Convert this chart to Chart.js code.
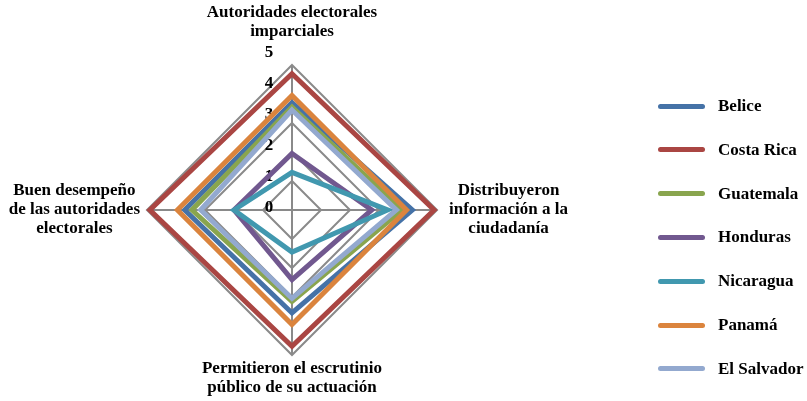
<!DOCTYPE html>
<html>
<head>
<meta charset="utf-8">
<script src="https://cdn.jsdelivr.net/npm/chart.js@4"></script>
<style>
  html, body { margin: 0; padding: 0; background: #ffffff; }
  #wrap { position: relative; width: 807px; height: 401px; overflow: hidden; }
  #c { position: absolute; left: 0; top: 0; }
  .lg { position: absolute; left: 0; top: 0; }
  .lg-line { position: absolute; width: 47px; height: 5px; border-radius: 3px; }
  .lg-text { position: absolute; font: bold 17px "Liberation Serif", serif; color: #000; white-space: nowrap; line-height: 20px; }
</style>
</head>
<body>
<div id="wrap">
  <canvas id="c" width="807" height="401"></canvas>
  <div id="legend" class="lg"></div>
</div>
<script>
// ---- data ----
const categories = [
  ["Autoridades electorales", "imparciales"],
  ["Distribuyeron", "información a la", "ciudadanía"],
  ["Permitieron el escrutinio", "público de su actuación"],
  ["Buen desempeño", "de las autoridades", "electorales"]
];
const seriesNames = ["Belice", "Costa Rica", "Guatemala", "Honduras", "Nicaragua", "Panamá", "El Salvador"];
const belice     = [3.7, 4.15, 3.55, 3.7];
const costaRica  = [4.7, 4.9, 4.7, 4.9];
const guatemala  = [3.55, 3.8, 3.15, 3.45];
const honduras   = [1.95, 2.75, 2.4, 2.0];
const nicaragua  = [1.3, 3.3, 1.45, 2.0];
const panama     = [3.95, 3.95, 3.95, 3.95];
const elSalvador = [3.45, 3.6, 3.05, 3.15];
const tickValues = [0, 1, 2, 3, 4, 5];
const seriesColors = ["#4572A7", "#AA4643", "#89A54E", "#71588F", "#4198AF", "#DB843D", "#93A9CF"];
const seriesValues = [belice, costaRica, guatemala, honduras, nicaragua, panama, elSalvador];

const FONT = 'bold 17px "Liberation Serif", serif';

const labelPlugin = {
  id: 'customLabels',
  beforeDatasetsDraw(chart) {
    // tick labels (left of the vertical axis), drawn beneath the series lines
    const s = chart.scales.r;
    const ctx = chart.ctx;
    ctx.save();
    ctx.font = FONT;
    ctx.fillStyle = '#000000';
    ctx.textAlign = 'center';
    ctx.textBaseline = 'middle';
    tickValues.forEach(v => {
      const d = s.getDistanceFromCenterForValue(v);
      ctx.fillText(String(v), s.xCenter - 23, s.yCenter - d * 1.07 - 2);
    });
    ctx.restore();
  },
  afterDraw(chart) {
    const s = chart.scales.r;
    const ctx = chart.ctx;
    ctx.save();
    ctx.font = FONT;
    ctx.fillStyle = '#000000';
    ctx.textAlign = 'center';
    ctx.textBaseline = 'middle';
    const lh = 19;
    const gaps = [24, 12, 4, 7];
    categories.forEach((lines, i) => {
      const p = s.getPointPosition(i, s.drawingArea);
      const dx = p.x - s.xCenter, dy = p.y - s.yCenter;
      const w = Math.max(...lines.map(t => ctx.measureText(t).width));
      const h = lines.length * lh;
      let cx, top;
      if (Math.abs(dx) > Math.abs(dy)) {
        cx = dx > 0 ? p.x + gaps[i] + w / 2 : p.x - gaps[i] - w / 2;
        top = p.y - h / 2;
      } else {
        cx = p.x;
        top = dy < 0 ? p.y - gaps[i] - h : p.y + gaps[i];
      }
      lines.forEach((t, k) => ctx.fillText(t, cx, top + lh * (k + 0.5)));
    });
    ctx.restore();
  }
};

const n = seriesNames.length;
const datasets = seriesNames.map((name, i) => ({
  label: name,
  data: seriesValues[i],
  borderColor: seriesColors[i],
  backgroundColor: seriesColors[i],
  borderWidth: 5,
  borderJoinStyle: 'miter',
  fill: false,
  pointRadius: 0,
  pointHoverRadius: 0,
  order: n - i
}));

new Chart(document.getElementById('c'), {
  type: 'radar',
  data: { labels: categories.map(l => l.join(' ')), datasets },
  options: {
    responsive: false,
    devicePixelRatio: 1,
    animation: false,
    layout: { padding: { left: 147, right: 370, top: 65, bottom: 46 } },
    plugins: { legend: { display: false }, tooltip: { enabled: false } },
    scales: {
      r: {
        min: 0,
        max: 5,
        ticks: { stepSize: 1, display: false },
        grid: { color: '#8a8a8a', lineWidth: 2, circular: false },
        angleLines: { color: '#8a8a8a', lineWidth: 2 },
        pointLabels: { display: false }
      }
    }
  },
  plugins: [labelPlugin]
});

// HTML legend built from the series arrays
const legend = document.getElementById('legend');
seriesNames.forEach((name, i) => {
  const y = 106 + i * 43.8;
  const line = document.createElement('div');
  line.className = 'lg-line';
  line.style.left = '658px';
  line.style.top = (y - 2.5) + 'px';
  line.style.background = seriesColors[i];
  legend.appendChild(line);
  const txt = document.createElement('div');
  txt.className = 'lg-text';
  txt.style.left = '718px';
  txt.style.top = (y - 10) + 'px';
  txt.textContent = name;
  legend.appendChild(txt);
});
</script>
</body>
</html>
